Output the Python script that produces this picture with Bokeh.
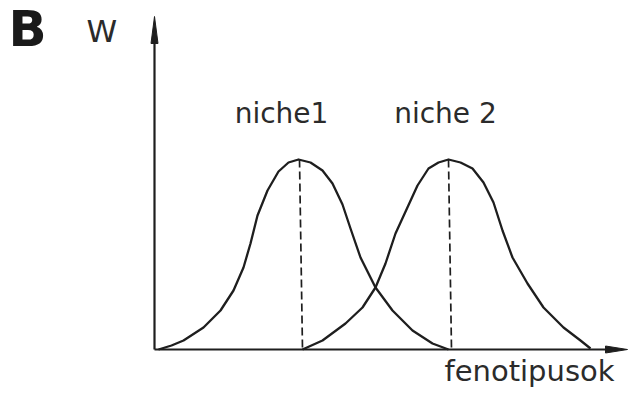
from bokeh.plotting import figure
from bokeh.models import Range1d
from bokeh.core.properties import value
from bokeh.embed import file_html
from bokeh.resources import INLINE

# Fitness curve of niche 1 (phenotype, W)
niche1_x = [4, 17, 29, 49, 66, 79, 89, 96, 103, 113, 124, 134, 144, 156, 168, 178, 188, 196, 206, 221, 238, 258, 278, 294]
niche1_w = [0, 4, 9, 22, 39, 59, 82, 106, 134, 159, 178, 187, 190, 187, 179, 166, 145, 121, 92, 62, 39, 19, 6, 0]

# Fitness curve of niche 2
niche2_x = [148, 168, 191, 208, 221, 231, 241, 252, 263, 274, 284, 294, 306, 318, 329, 339, 348, 358, 373, 389, 409, 426, 436]
niche2_w = [0, 9, 26, 42, 62, 86, 116, 140, 164, 181, 187, 190, 187, 181, 167, 147, 119, 92, 66, 42, 22, 9, 1]

# optimum (dashed) lines: top and bottom x, peak height
dash_top_x = [145, 294]
dash_bot_x = [148, 297]
dash_top_w = [190, 190]

# axis extents (tips of arrows)
x_axis_end = 473
y_axis_end = 333

# labels
panel_label = "B"
y_label = "W"
niche_labels = ["niche1", "niche 2"]
niche_label_x = [127, 291]
niche_label_w = [236, 236]
x_label = "fenotipusok"

INK = "#1e1e1e"
TXT = "#2b2b2b"

p = figure(width=635, height=397, output_backend="svg", toolbar_location=None,
           x_range=Range1d(-154, 481), y_range=Range1d(-48, 349),
           min_border=0, min_border_left=0, min_border_right=0,
           min_border_top=0, min_border_bottom=0)
p.axis.visible = False
p.grid.visible = False
p.outline_line_color = None
p.background_fill_color = "white"
p.border_fill_color = "white"

# axes with arrows
ah_len_y, ah_half = 27, 3.5
ah_len_x = 22
p.segment(x0=[0, 0], y0=[0, 0], x1=[0, x_axis_end - ah_len_x + 2], y1=[y_axis_end - ah_len_y + 2, 0],
          line_color=INK, line_width=2.2)
p.patches(xs=[[-ah_half, ah_half, 0], [x_axis_end - ah_len_x, x_axis_end - ah_len_x, x_axis_end]],
          ys=[[y_axis_end - ah_len_y, y_axis_end - ah_len_y, y_axis_end], [-ah_half, ah_half, 0]],
          fill_color=INK, line_color=INK, line_width=1)

# curves
p.line(niche1_x, niche1_w, line_color=INK, line_width=2.3, line_join="round")
p.line(niche2_x, niche2_w, line_color=INK, line_width=2.3, line_join="round")

# dashed optimum lines
p.segment(x0=dash_top_x, y0=dash_top_w, x1=dash_bot_x, y1=[0, 0],
          line_color=INK, line_width=1.7, line_dash="8 4")

# texts
p.text(x=[-146], y=[321], text=[panel_label], text_font=value("DejaVu Sans"),
       text_font_style="bold", text_font_size="50px", text_color="#1a1a1a",
       text_baseline="alphabetic", text_align="left")
p.text(x=[-68], y=[319], text=[y_label], text_font=value("DejaVu Sans"),
       text_font_size="31px", text_color=TXT, text_baseline="alphabetic", text_align="left")
p.text(x=niche_label_x, y=niche_label_w, text=niche_labels, text_font=value("DejaVu Sans"),
       text_font_size="28px", text_color=TXT, text_baseline="alphabetic", text_align="center")
p.text(x=[290], y=[-21], text=[x_label], text_font=value("DejaVu Sans"),
       text_font_size="29px", text_color=TXT, text_baseline="alphabetic", text_align="left")

open("out.html", "w").write(file_html(p, INLINE))
